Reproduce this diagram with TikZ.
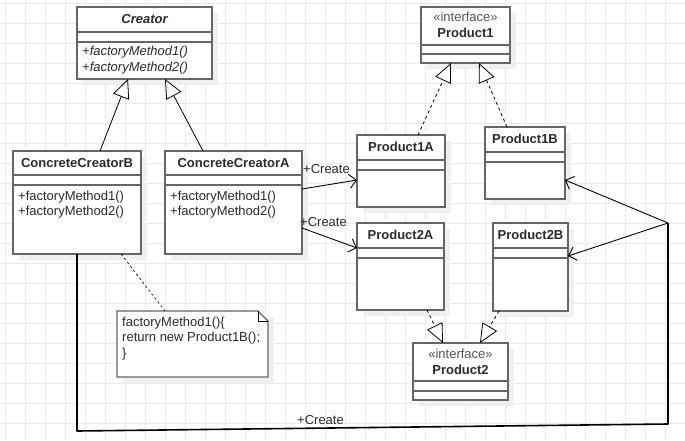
\documentclass[tikz,border=0pt]{standalone}
\usepackage{fontspec}
\setmainfont{Liberation Sans}
\usetikzlibrary{arrows.meta,calc}

\definecolor{gridc}{HTML}{EBEBEB}
\definecolor{boxc}{HTML}{666666}
\definecolor{txt}{HTML}{2B2B2B}
\definecolor{shadowc}{HTML}{F0F0F0}
\definecolor{stereo}{HTML}{555555}

\tikzset{
  classbox/.style={draw=boxc, line width=1.4pt, fill=white, rectangle, inner sep=0pt, outer sep=0pt, anchor=north west},
  sepline/.style={draw=boxc, line width=1.4pt},
  gridline/.style={draw=gridc, line width=0.8pt},
  titletext/.style={font=\fontsize{13}{15}\selectfont\bfseries, text=txt, inner sep=0pt},
  stereotext/.style={font=\fontsize{13}{15}\selectfont, text=stereo, inner sep=0pt},
  membertext/.style={font=\fontsize{13}{15}\selectfont, text=txt, inner sep=0pt, anchor=west},
  gen/.style={draw=black, line width=0.8pt, -{Triangle[length=19pt,width=17pt,fill=white,line width=0.8pt]}},
  realize/.style={gen, dash pattern=on 3pt off 3pt},
  assoc/.style={draw=black, line width=0.9pt, -{Straight Barb[length=7pt,width=14pt,line width=0.9pt]}},
  notelink/.style={draw=black, line width=0.6pt, dash pattern=on 2.5pt off 2.5pt},
  trunk/.style={draw=black, line width=1.6pt, line join=round},
}

% class box: name, x, y, width, height, first separator, second separator
\newcommand\umlclass[7]{%
  \fill[shadowc] (#2+6,#3+6) rectangle ++(#4,#5);
  \node[classbox, minimum width=#4pt, minimum height=#5pt] (#1) at (#2,#3) {};
  \draw[sepline] ([yshift=-#6pt]#1.north west) -- ([yshift=-#6pt]#1.north east);
  \draw[sepline] ([yshift=-#7pt]#1.north west) -- ([yshift=-#7pt]#1.north east);
}

\begin{document}
\begin{tikzpicture}[x=1pt, y=-1pt]
  \useasboundingbox (0,0) rectangle (685,440);
  \fill[white] (0,0) rectangle (685,440);

  % background grid
  \foreach \gx in {5,25,...,685} \draw[gridline] (\gx,0) -- (\gx,440);
  \foreach \gy in {3,23,...,440} \draw[gridline] (0,\gy) -- (685,\gy);

  % classes
  \umlclass{creator}{77}{7}{135}{72}{25}{35}
  \umlclass{prodone}{421}{7}{89}{56}{38}{47}
  \umlclass{ccb}{13}{151}{128}{103}{24}{34}
  \umlclass{cca}{165}{151}{137}{103}{24}{34}
  \umlclass{pa}{357}{135}{88}{72}{25}{35}
  \umlclass{pb}{485}{127}{80}{72}{25}{35}
  \umlclass{pc}{357}{223}{87}{87}{25}{35}
  \umlclass{pd}{493}{223}{75}{88}{25}{35}
  \umlclass{prodtwo}{413}{343}{95}{57}{38}{48}

  % note
  \fill[shadowc] (123,317) rectangle ++(151,66);
  \node[rectangle, draw=none, inner sep=0pt, outer sep=0pt, minimum width=151pt, minimum height=66pt, anchor=north west] (note) at (117,311) {};
  \draw[draw=boxc, line width=1.4pt, fill=white, line join=miter]
    (note.north west) -- ([xshift=-10pt]note.north east) -- ([yshift=-10pt]note.north east)
    -- (note.south east) -- (note.south west) -- cycle;
  \draw[draw=black, line width=0.6pt]
    ([xshift=-10pt]note.north east) -- ([xshift=-10pt,yshift=-10pt]note.north east) -- ([yshift=-10pt]note.north east);

  % texts
  \node[titletext] (creatorT) at (144.5,19.5) {\itshape Creator};
  \node[membertext] (creatorM1) at (82,52) {\itshape +factoryMethod1()};
  \node[membertext] (creatorM2) at (82,68) {\itshape +factoryMethod2()};

  \node[stereotext] (prodoneS) at (465.5,17) {«interface»};
  \node[titletext] (prodoneT) at (465.5,32.5) {Product1};

  \node[titletext] (ccbT) at (77,163) {ConcreteCreatorB};
  \node[membertext] (ccbM1) at (18,197) {+factoryMethod1()};
  \node[membertext] (ccbM2) at (18,212) {+factoryMethod2()};

  \node[titletext] (ccaT) at (233.5,163) {ConcreteCreatorA};
  \node[membertext] (ccaM1) at (170,197) {+factoryMethod1()};
  \node[membertext] (ccaM2) at (170,212) {+factoryMethod2()};

  \node[titletext] (paT) at (401,147) {Product1A};
  \node[titletext] (pbT) at (525,139) {Product1B};
  \node[titletext] (pcT) at (400.5,235) {Product2A};
  \node[titletext] (pdT) at (530.5,235) {Product2B};

  \node[stereotext] (prodtwoS) at (460.5,354) {«interface»};
  \node[titletext] (prodtwoT) at (460.5,369.5) {Product2};

  \node[membertext] (noteL1) at (122,323) {factoryMethod1()\{};
  \node[membertext] (noteL2) at (122,338) {return new Product1B();};
  \node[membertext] (noteL3) at (122,354) {\}};

  % inheritance
  \draw[gen] ([xshift=87pt]ccb.north west) -- ([xshift=51pt]creator.south west);
  \draw[gen] ([xshift=38pt]cca.north west) -- ([xshift=88pt]creator.south west);

  % realization
  \draw[realize] ([xshift=61pt]pa.north west) -- ([xshift=30pt]prodone.south west);
  \draw[realize] ([xshift=22pt]pb.north west) -- ([xshift=58pt]prodone.south west);
  \draw[realize] ([xshift=70pt]pc.south west) -- ([xshift=30pt]prodtwo.north west);
  \draw[realize] ([xshift=6pt]pd.south west) -- ([xshift=67pt]prodtwo.north west);

  % associations from ConcreteCreatorA
  \draw[assoc] ([yshift=-38pt]cca.north east) -- ([yshift=-45pt]pa.north west);
  \draw[assoc] ([yshift=-77pt]cca.north east) -- ([yshift=-25pt]pc.north west);
  \node[membertext] (createA) at (303,169) {+Create};
  \node[membertext] (createB) at (300,222) {+Create};

  % association from ConcreteCreatorB around the bottom
  \coordinate (cornerL) at (77,431);
  \coordinate (cornerR) at (668,424);
  \coordinate (hub) at (668,223);
  \draw[trunk] ([xshift=64pt]ccb.south west) -- (cornerL) -- (cornerR) -- (hub);
  \draw[assoc] (hub) -- ([yshift=-53pt]pb.north east);
  \draw[assoc] (hub) -- ([yshift=-33pt]pd.north east);
  \node[membertext] (createC) at (297,420) {+Create};

  % note link
  \draw[notelink] ([xshift=108pt]ccb.south west) -- ([xshift=48pt]note.north west);
\end{tikzpicture}
\end{document}
